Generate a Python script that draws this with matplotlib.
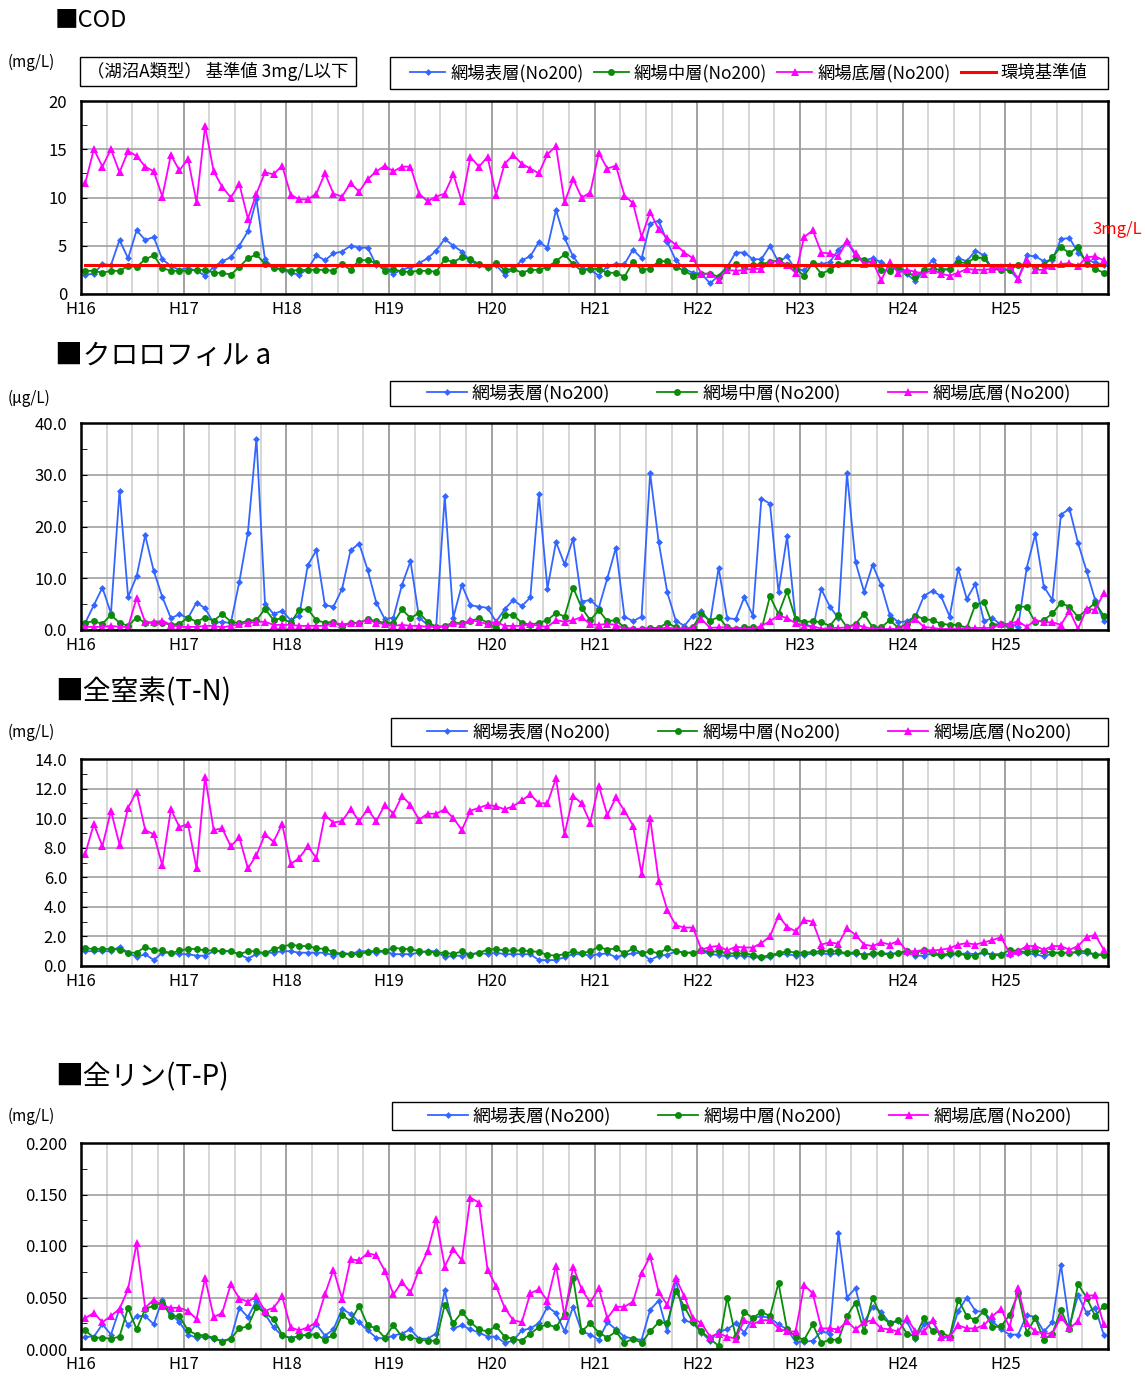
import numpy as np
import matplotlib
matplotlib.use('Agg')
from matplotlib import pyplot as plt
from matplotlib.patches import Rectangle

plt.rcParams['font.family'] = ['Noto Sans CJK JP', 'DejaVu Sans']

W, H = 1145, 1378

years = ['H16', 'H17', 'H18', 'H19', 'H20', 'H21', 'H22', 'H23', 'H24', 'H25']
labels = ['網場表層(No200)', '網場中層(No200)', '網場底層(No200)']
std_label = '環境基準値'
cod_std = 3.0

# monthly values, one row per fiscal year H16..H25
cod_top = [2.0, 2.1, 3.1, 3.0, 5.6, 3.7, 6.6, 5.6, 5.9, 3.6, 2.9, 2.5,
           2.7, 2.4, 1.9, 2.8, 3.4, 3.8, 5.0, 6.5, 9.8, 3.6, 2.7, 2.5,
           2.2, 2.0, 2.6, 4.0, 3.5, 4.2, 4.4, 5.0, 4.8, 4.8, 3.0, 2.7,
           2.1, 2.5, 2.8, 3.2, 3.7, 4.5, 5.7, 5.0, 4.4, 3.4, 3.0, 2.7,
           3.0, 2.0, 2.6, 3.5, 3.9, 5.4, 4.8, 8.7, 5.8, 3.9, 2.7, 2.5,
           1.9, 2.9, 3.1, 3.1, 4.6, 3.7, 7.3, 7.6, 5.4, 3.5, 2.6, 2.2,
           2.1, 1.1, 1.9, 2.8, 4.3, 4.3, 3.6, 3.6, 5.0, 3.3, 3.9, 2.5,
           2.5, 3.2, 3.1, 3.3, 4.6, 5.4, 4.0, 3.5, 3.7, 3.3, 2.8, 2.6,
           2.1, 1.3, 2.5, 3.5, 2.6, 2.5, 3.7, 3.4, 4.5, 4.0, 2.6, 2.6,
           2.5, 1.5, 4.0, 3.9, 3.4, 3.5, 5.7, 5.8, 4.3, 3.5, 3.3, 3.0]
cod_mid = [2.4, 2.4, 2.2, 2.4, 2.4, 2.9, 2.8, 3.6, 4.0, 2.7, 2.4, 2.4,
           2.4, 2.5, 2.5, 2.2, 2.2, 2.0, 2.8, 3.7, 4.1, 3.1, 2.7, 2.6,
           2.4, 2.5, 2.5, 2.5, 2.5, 2.4, 3.1, 2.5, 3.5, 3.5, 3.2, 2.4,
           2.6, 2.3, 2.3, 2.4, 2.4, 2.3, 3.6, 3.3, 3.8, 3.6, 3.1, 2.8,
           3.2, 2.5, 2.6, 2.2, 2.5, 2.5, 2.8, 3.4, 4.1, 3.1, 2.4, 2.6,
           2.6, 2.2, 2.2, 1.8, 3.3, 2.5, 2.6, 3.4, 3.4, 2.8, 2.4, 1.9,
           2.1, 2.1, 1.8, 2.8, 3.1, 2.8, 3.0, 3.1, 3.3, 3.5, 3.0, 2.6,
           1.9, 3.2, 2.1, 2.5, 3.1, 3.2, 3.7, 3.5, 3.3, 2.5, 2.4, 2.8,
           2.3, 1.8, 2.5, 2.6, 2.5, 2.6, 3.3, 3.2, 3.8, 3.7, 2.6, 2.5,
           2.5, 3.0, 3.1, 2.8, 3.0, 3.8, 4.9, 4.2, 4.9, 3.1, 2.6, 2.2]
cod_bot = [11.5, 15.0, 13.2, 15.0, 12.6, 14.8, 14.3, 13.2, 12.7, 10.1, 14.4, 12.8,
           14.0, 9.5, 17.4, 12.7, 11.1, 10.0, 11.4, 7.8, 10.4, 12.6, 12.4, 13.3,
           10.3, 9.8, 9.8, 10.4, 12.5, 10.4, 10.1, 11.5, 10.6, 11.9, 12.7, 13.3,
           12.7, 13.2, 13.2, 10.4, 9.6, 10.1, 10.4, 12.4, 9.6, 14.2, 13.2, 14.2,
           10.3, 13.5, 14.4, 13.5, 13.0, 12.5, 14.5, 15.3, 9.5, 11.9, 10.0, 10.5,
           14.6, 13.0, 13.3, 10.2, 9.4, 5.9, 8.5, 6.7, 5.8, 5.1, 4.3, 3.7,
           2.1, 2.1, 1.5, 2.5, 2.4, 2.5, 2.6, 2.6, 3.3, 3.4, 3.0, 2.2,
           5.9, 6.6, 4.3, 4.2, 3.9, 5.5, 4.2, 3.1, 3.4, 1.4, 3.3, 2.2,
           2.5, 2.3, 2.1, 2.5, 2.1, 1.9, 2.2, 2.6, 2.5, 2.5, 2.6, 2.8,
           2.9, 1.6, 3.5, 2.5, 2.5, 2.9, 3.1, 3.2, 2.9, 3.8, 3.9, 3.5]

chl_top = [1.4, 4.8, 8.2, 3.2, 26.9, 6.4, 10.4, 18.3, 11.4, 6.4, 2.3, 3.0,
           2.3, 5.3, 4.2, 1.3, 1.6, 1.3, 9.3, 18.8, 37.0, 5.1, 3.1, 3.7,
           1.9, 2.8, 12.5, 15.4, 4.8, 4.5, 7.9, 15.4, 16.7, 11.6, 5.3, 2.1,
           2.4, 8.7, 13.3, 2.4, 1.0, 0.6, 25.9, 2.4, 8.7, 4.8, 4.5, 4.3,
           1.6, 4.0, 5.8, 4.6, 6.3, 26.2, 8.0, 17.0, 12.7, 17.6, 5.5, 5.8,
           4.3, 10.0, 15.9, 2.6, 1.7, 2.6, 30.3, 17.0, 7.3, 1.8, 0.8, 2.8,
           3.7, 1.5, 12.0, 2.3, 2.1, 6.3, 2.8, 25.4, 24.4, 7.3, 18.1, 2.1,
           1.5, 0.2, 7.9, 4.5, 2.3, 30.3, 13.1, 7.4, 12.6, 8.6, 2.9, 1.5,
           1.7, 2.6, 6.6, 7.6, 6.5, 2.6, 11.8, 6.0, 8.9, 1.7, 2.3, 1.0,
           1.2, 0.6, 12.0, 18.5, 8.4, 5.8, 22.3, 23.4, 16.8, 11.4, 5.8, 1.7]
chl_mid = [1.4, 1.7, 1.2, 2.9, 1.4, 0.8, 2.4, 1.4, 1.4, 1.4, 1.0, 1.2,
           2.4, 1.6, 2.4, 1.8, 3.1, 1.6, 1.3, 1.8, 1.9, 4.1, 1.9, 2.3,
           1.4, 3.9, 4.0, 1.9, 1.4, 1.6, 0.6, 1.4, 1.4, 2.1, 1.7, 1.4,
           1.3, 4.0, 2.3, 3.3, 1.6, 0.6, 0.8, 1.4, 1.3, 1.7, 2.3, 1.4,
           0.3, 2.9, 2.9, 1.4, 1.0, 1.4, 1.9, 3.3, 2.6, 8.2, 4.3, 1.9,
           3.8, 1.7, 1.9, 0.5, 0.2, 0.2, 0.4, 0.4, 1.4, 0.5, 0.2, 0.6,
           3.1, 1.8, 2.5, 0.5, 0.2, 0.5, 0.6, 0.0, 6.5, 3.1, 7.5, 2.1,
           1.5, 1.7, 1.5, 0.8, 2.9, 0.5, 1.2, 3.1, 0.5, 0.5, 1.9, 0.4,
           1.2, 2.8, 2.1, 1.9, 1.2, 1.0, 1.0, 0.4, 4.9, 5.4, 1.0, 1.2,
           0.5, 4.5, 4.5, 1.5, 1.9, 3.2, 5.2, 4.5, 2.5, 3.9, 5.2, 2.8]
chl_bot = [0.6, 0.6, 0.6, 0.8, 0.6, 0.6, 6.2, 1.5, 1.5, 1.8, 1.0, 0.6,
           0.6, 0.6, 0.8, 0.8, 0.5, 0.8, 1.1, 1.4, 1.6, 1.6, 1.0, 1.0,
           1.0, 0.8, 0.8, 0.8, 0.8, 1.4, 1.1, 1.3, 1.3, 2.0, 1.4, 1.1,
           0.8, 1.0, 0.8, 0.8, 0.6, 0.6, 0.6, 1.3, 1.1, 1.9, 1.6, 1.1,
           1.6, 0.8, 0.8, 0.8, 1.1, 0.8, 0.6, 1.9, 1.6, 1.9, 2.5, 1.1,
           1.0, 1.2, 1.0, 0.2, 0.2, 0.2, 0.2, 0.2, 0.5, 0.2, 0.2, 0.4,
           2.1, 0.4, 0.5, 0.5, 0.2, 0.2, 0.2, 0.8, 1.7, 2.8, 2.3, 1.3,
           0.8, 0.8, 0.2, 0.4, 0.4, 0.5, 1.0, 0.6, 0.2, 0.2, 0.2, 0.2,
           1.0, 2.1, 0.6, 0.4, 0.2, 0.2, 0.2, 0.4, 0.4, 0.4, 0.4, 1.2,
           1.2, 1.7, 0.6, 1.9, 1.5, 1.5, 1.0, 3.7, 0.2, 4.1, 3.9, 7.1]

tn_top = [1.0, 1.0, 1.0, 1.0, 1.3, 0.9, 0.6, 0.8, 0.4, 0.9, 0.9, 0.8,
          0.8, 0.7, 0.7, 1.0, 1.0, 1.0, 0.8, 0.5, 0.8, 0.9, 0.9, 1.0,
          1.0, 0.9, 0.9, 0.9, 0.9, 0.7, 0.9, 0.8, 1.0, 1.0, 0.9, 1.0,
          0.8, 0.8, 0.8, 0.9, 1.0, 1.0, 0.6, 0.7, 0.7, 0.8, 0.9, 0.8,
          0.9, 0.8, 0.8, 0.8, 0.8, 0.4, 0.4, 0.4, 0.6, 0.8, 0.8, 0.7,
          0.8, 0.85, 0.6, 0.75, 0.85, 0.9, 0.4, 0.7, 0.75, 1.0, 0.9, 0.9,
          1.0, 0.8, 0.75, 0.65, 0.7, 0.7, 0.6, 0.55, 0.6, 0.8, 0.8, 0.7,
          0.75, 0.85, 0.85, 0.8, 0.85, 0.85, 0.8, 0.8, 0.75, 0.85, 0.85, 0.85,
          0.9, 0.7, 0.7, 0.85, 0.65, 0.75, 0.8, 0.85, 0.8, 0.85, 0.8, 0.8,
          0.75, 0.9, 0.85, 0.8, 0.65, 0.85, 0.9, 0.9, 0.9, 0.85, 0.8, 0.75]
tn_mid = [1.2, 1.15, 1.15, 1.15, 1.1, 0.9, 0.9, 1.3, 1.05, 1.05, 0.85, 1.05,
          1.15, 1.15, 1.05, 1.05, 1.0, 1.0, 0.8, 1.0, 1.0, 0.85, 1.15, 1.3,
          1.45, 1.35, 1.35, 1.2, 1.15, 0.95, 0.8, 0.8, 0.8, 0.95, 1.05, 1.0,
          1.25, 1.15, 1.15, 1.0, 0.95, 0.9, 0.9, 0.8, 1.0, 0.75, 0.9, 1.1,
          1.15, 1.05, 1.05, 1.05, 1.0, 0.95, 0.75, 0.7, 0.8, 1.0, 0.85, 1.0,
          1.3, 1.1, 1.2, 0.85, 1.2, 0.85, 1.0, 0.85, 1.2, 1.0, 0.9, 0.9,
          1.05, 0.95, 1.0, 0.85, 0.85, 0.85, 0.75, 0.6, 0.75, 0.85, 1.0, 0.9,
          0.9, 0.95, 1.0, 1.0, 1.0, 0.85, 0.95, 0.7, 0.9, 0.85, 0.75, 0.9,
          1.0, 0.9, 1.05, 0.9, 0.75, 0.85, 0.85, 0.7, 0.7, 1.0, 0.7, 0.75,
          1.1, 1.0, 0.95, 1.0, 1.0, 0.9, 0.9, 0.85, 1.0, 1.0, 0.75, 0.75]
tn_bot = [7.6, 9.6, 8.1, 10.5, 8.2, 10.7, 11.8, 9.2, 8.9, 6.8, 10.6, 9.4,
          9.6, 6.6, 12.8, 9.2, 9.3, 8.1, 8.7, 6.6, 7.5, 8.9, 8.4, 9.6,
          6.9, 7.3, 8.1, 7.3, 10.2, 9.7, 9.8, 10.6, 9.8, 10.6, 9.8, 10.9,
          10.3, 11.5, 10.9, 9.9, 10.3, 10.3, 10.6, 10.0, 9.2, 10.5, 10.7, 10.9,
          10.8, 10.6, 10.8, 11.2, 11.6, 11.0, 11.0, 12.7, 8.9, 11.5, 11.0, 9.7,
          12.2, 10.2, 11.4, 10.5, 9.5, 6.25, 10.0, 5.75, 3.8, 2.75, 2.6, 2.6,
          1.1, 1.3, 1.35, 1.05, 1.3, 1.25, 1.25, 1.55, 2.0, 3.4, 2.65, 2.35,
          3.1, 3.0, 1.45, 1.6, 1.5, 2.55, 2.1, 1.45, 1.35, 1.6, 1.45, 1.7,
          1.0, 1.0, 1.1, 1.05, 1.1, 1.2, 1.45, 1.55, 1.45, 1.6, 1.75, 1.95,
          0.85, 1.0, 1.35, 1.35, 1.1, 1.35, 1.35, 1.1, 1.35, 1.95, 2.1, 1.1]

tp_top = [0.012, 0.012, 0.024, 0.014, 0.039, 0.023, 0.032, 0.032, 0.024, 0.048, 0.034, 0.026,
          0.014, 0.011, 0.012, 0.010, 0.008, 0.010, 0.040, 0.031, 0.047, 0.034, 0.021, 0.013,
          0.011, 0.012, 0.014, 0.024, 0.013, 0.019, 0.039, 0.034, 0.026, 0.018, 0.011, 0.010,
          0.013, 0.015, 0.019, 0.010, 0.010, 0.015, 0.057, 0.020, 0.023, 0.019, 0.016, 0.012,
          0.012, 0.006, 0.008, 0.018, 0.020, 0.025, 0.041, 0.035, 0.017, 0.041, 0.017, 0.014,
          0.009, 0.026, 0.019, 0.012, 0.010, 0.009, 0.038, 0.047, 0.017, 0.068, 0.028, 0.025,
          0.016, 0.008, 0.017, 0.019, 0.025, 0.016, 0.030, 0.032, 0.030, 0.024, 0.019, 0.007,
          0.007, 0.008, 0.017, 0.015, 0.113, 0.050, 0.059, 0.026, 0.041, 0.036, 0.025, 0.027,
          0.027, 0.010, 0.024, 0.027, 0.011, 0.011, 0.037, 0.050, 0.037, 0.036, 0.027, 0.019,
          0.014, 0.014, 0.033, 0.031, 0.017, 0.026, 0.082, 0.023, 0.052, 0.035, 0.040, 0.014]
tp_mid = [0.018, 0.011, 0.011, 0.010, 0.012, 0.040, 0.019, 0.039, 0.042, 0.045, 0.032, 0.032,
          0.018, 0.014, 0.013, 0.011, 0.007, 0.010, 0.020, 0.022, 0.041, 0.035, 0.029, 0.014,
          0.010, 0.013, 0.014, 0.014, 0.009, 0.014, 0.033, 0.027, 0.042, 0.023, 0.020, 0.011,
          0.023, 0.012, 0.012, 0.009, 0.008, 0.008, 0.043, 0.025, 0.036, 0.026, 0.019, 0.017,
          0.022, 0.012, 0.010, 0.008, 0.015, 0.021, 0.024, 0.021, 0.034, 0.069, 0.017, 0.025,
          0.016, 0.011, 0.017, 0.006, 0.010, 0.006, 0.017, 0.026, 0.025, 0.056, 0.041, 0.026,
          0.017, 0.010, 0.003, 0.050, 0.012, 0.036, 0.030, 0.036, 0.032, 0.064, 0.019, 0.012,
          0.009, 0.024, 0.006, 0.009, 0.009, 0.032, 0.045, 0.017, 0.050, 0.031, 0.025, 0.028,
          0.015, 0.012, 0.030, 0.017, 0.016, 0.012, 0.048, 0.032, 0.028, 0.037, 0.021, 0.022,
          0.033, 0.054, 0.016, 0.030, 0.009, 0.015, 0.038, 0.019, 0.063, 0.050, 0.032, 0.042]
tp_bot = [0.030, 0.035, 0.026, 0.032, 0.039, 0.058, 0.103, 0.040, 0.048, 0.042, 0.040, 0.040,
          0.037, 0.029, 0.069, 0.031, 0.035, 0.063, 0.049, 0.046, 0.051, 0.037, 0.040, 0.051,
          0.021, 0.018, 0.021, 0.026, 0.053, 0.077, 0.049, 0.087, 0.086, 0.093, 0.091, 0.076,
          0.053, 0.065, 0.055, 0.077, 0.095, 0.126, 0.080, 0.097, 0.086, 0.147, 0.142, 0.077,
          0.061, 0.040, 0.028, 0.026, 0.054, 0.058, 0.047, 0.081, 0.032, 0.080, 0.058, 0.045,
          0.059, 0.030, 0.041, 0.041, 0.046, 0.074, 0.090, 0.055, 0.043, 0.069, 0.051, 0.030,
          0.025, 0.012, 0.015, 0.012, 0.010, 0.028, 0.024, 0.028, 0.028, 0.020, 0.017, 0.017,
          0.062, 0.054, 0.020, 0.020, 0.019, 0.027, 0.019, 0.026, 0.028, 0.020, 0.019, 0.017,
          0.030, 0.017, 0.017, 0.028, 0.012, 0.012, 0.023, 0.020, 0.020, 0.023, 0.032, 0.039,
          0.021, 0.059, 0.025, 0.017, 0.015, 0.015, 0.031, 0.020, 0.027, 0.052, 0.052, 0.024]

months = np.arange(len(cod_top)) + 0.5

BLUE, GREEN, MAGENTA = '#3366ff', '#0a8c0a', '#ff00ff'
styles = [dict(color=BLUE, marker='D', ms=3.5),
          dict(color=GREEN, marker='o', ms=5),
          dict(color=MAGENTA, marker='^', ms=5.5)]


def fbox(x0, y0, x1, y1):
    # pixel box (top-left origin) -> figure fraction rect
    return [x0 / W, 1 - y1 / H, (x1 - x0) / W, (y1 - y0) / H]


def legend_box(fig, handles, texts, rect, colsp, hlen, fs=13):
    # fixed-size black frame, legend entries centred inside it
    x, y, w, h = fbox(*rect)
    fig.add_artist(Rectangle((x, y), w, h, transform=fig.transFigure,
                             fc='white', ec='black', lw=1.0))
    fig.legend(handles, texts, loc='center', bbox_to_anchor=(x + w / 2, y + h / 2),
               ncol=len(texts), fontsize=fs, frameon=False, handlelength=hlen,
               handletextpad=0.3, columnspacing=colsp, borderaxespad=0)


def make_panel(fig, rect, title, title_fs, title_y, unit, unit_y, ymax, ystep,
               fmt, data):
    ax = fig.add_axes(fbox(*rect))
    handles = []
    for vals, st, lab in zip(data, styles, labels):
        h, = ax.plot(months, vals, lw=1.3, mew=0, label=lab, **st)
        handles.append(h)
    ax.set_xlim(0, 120)
    ax.set_ylim(0, ymax)
    ax.set_xticks(np.arange(0, 120, 12))
    ax.set_xticklabels(years, fontsize=12)
    ax.set_xticks(np.arange(0, 121, 3), minor=True)
    yt = np.arange(0, ymax + ystep / 2, ystep)
    ax.set_yticks(yt)
    ax.set_yticks(np.arange(ystep / 2, ymax, ystep), minor=True)
    ax.set_yticklabels([fmt.format(v) for v in yt], fontsize=12)
    ax.grid(which='minor', axis='x', color='#cccccc', lw=1.1)
    ax.grid(which='major', axis='x', color='#888888', lw=1.1)
    ax.grid(which='major', axis='y', color='#999999', lw=1.1)
    ax.set_axisbelow(True)
    ax.tick_params(axis='x', which='both', length=0, pad=5)
    ax.tick_params(axis='y', which='both', direction='in', length=4, pad=10)
    for sp in ax.spines.values():
        sp.set_linewidth(1.8)
    fig.text(55 / W, 1 - title_y / H, title, fontsize=title_fs, va='center')
    fig.text(8 / W, 1 - unit_y / H, unit, fontsize=11, va='center')
    return ax, handles


fig = plt.figure(figsize=(W / 100, H / 100), dpi=100)

# COD
ax, hs = make_panel(fig, (81, 101, 1108, 294), '■COD', 17, 20, '(mg/L)', 62,
                    20, 5, '{:.0f}', [cod_top, cod_mid, cod_bot])
hstd, = ax.plot(months, [cod_std] * len(months), color='red', lw=2.2)
legend_box(fig, hs + [hstd], labels + [std_label], (390, 57, 1108, 89), 0.6, 2.0, fs=12.5)
fig.text(1092 / W, 1 - 229 / H, '3mg/L', color='red', fontsize=12, va='center')
x, y, w, h = fbox(80, 57, 356, 86)
fig.add_artist(Rectangle((x, y), w, h, transform=fig.transFigure,
                         fc='white', ec='black', lw=1.0))
fig.text(218 / W, 1 - 71.5 / H, '（湖沼A類型） 基準値 3mg/L以下', fontsize=12.5,
         va='center', ha='center')

# chlorophyll a, T-N, T-P
panels = [
    ((81, 423, 1108, 630), '■クロロフィル a', 20, 356, '(μg/L)', 398, 40, 10, '{:.1f}',
     [chl_top, chl_mid, chl_bot], (390, 381, 1108, 406)),
    ((81, 759, 1108, 966), '■全窒素(T-N)', 20, 692, '(mg/L)', 732, 14, 2, '{:.1f}',
     [tn_top, tn_mid, tn_bot], (391, 718, 1108, 746)),
    ((81, 1143, 1108, 1349), '■全リン(T-P)', 20, 1077, '(mg/L)', 1116, 0.2, 0.05, '{:.3f}',
     [tp_top, tp_mid, tp_bot], (392, 1102, 1108, 1130)),
]
for p in panels:
    ax, hs = make_panel(fig, *p[:-1])
    legend_box(fig, hs, labels, p[-1], 2.6, 2.2)

fig.savefig('out.png', dpi=100)
